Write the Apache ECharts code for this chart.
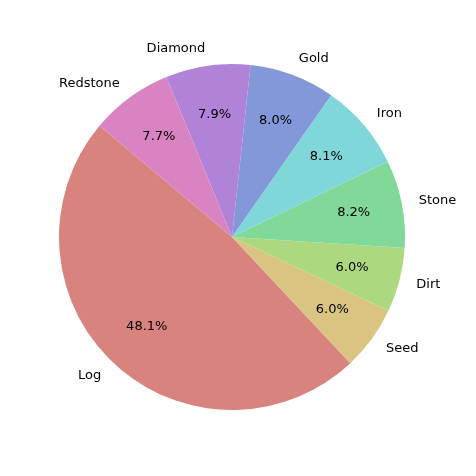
<!DOCTYPE html>
<html>
<head>
<meta charset="utf-8">
<script src="https://cdn.jsdelivr.net/npm/echarts@6/dist/echarts.min.js"></script>
<style>html,body{margin:0;padding:0;background:#fff}#c{width:476px;height:476px}</style>
</head>
<body>
<div id="c"></div>
<script>
const categories = ['Log', 'Seed', 'Dirt', 'Stone', 'Iron', 'Gold', 'Diamond', 'Redstone'];
const values = [48.1, 6.0, 6.0, 8.2, 8.1, 8.0, 7.9, 7.7];
const colors = ['#d9837e', '#d9c482', '#acd97f', '#80d998', '#80d7d9', '#8398d9', '#b083d9', '#d983c2'];

const R = 173;
const PCT_R = 124;
const font = 'DejaVu Sans';
const data = categories.map((c, i) => ({ name: c, value: values[i], itemStyle: { color: colors[i] } }));
const total = values.reduce((a, b) => a + b, 0);

const chart = echarts.init(document.getElementById('c'), null, { renderer: 'canvas' });
chart.setOption({
  animation: false,
  backgroundColor: '#ffffff',
  series: [
    {
      type: 'pie',
      center: [232, 237],
      radius: [0, R],
      startAngle: 140,
      clockwise: false,
      avoidLabelOverlap: false,
      silent: true,
      emphasis: { disabled: true, scale: false },
      data: data,
      label: {
        show: true,
        position: 'outside',
        formatter: '{b}',
        color: '#000',
        fontFamily: font,
        fontSize: 13,
        distanceToLabelLine: 0
      },
      labelLine: { show: false, length: 17.3, length2: 0 }
    },
    {
      type: 'pie',
      center: [232, 237],
      radius: [0, 2 * (PCT_R - 3)],
      startAngle: 140,
      clockwise: false,
      avoidLabelOverlap: false,
      silent: true,
      emphasis: { disabled: true, scale: false },
      data: categories.map((c, i) => ({ name: c, value: values[i], itemStyle: { color: 'rgba(0,0,0,0)' } })),
      label: {
        show: true,
        position: 'inside',
        formatter: p => (p.value / total * 100).toFixed(1) + '%',
        color: '#000',
        fontFamily: font,
        fontSize: 13
      },
      labelLine: { show: false }
    }
  ]
});
</script>
</body>
</html>
